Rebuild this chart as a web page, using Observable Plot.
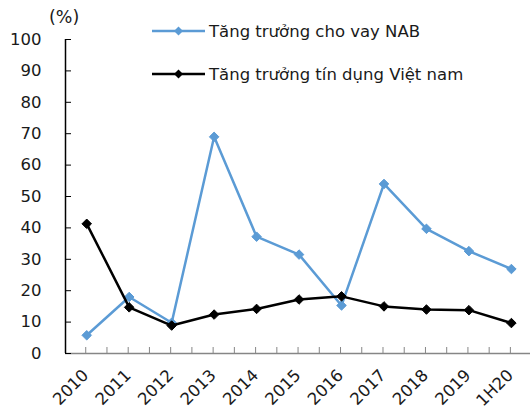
<!DOCTYPE html>
<html>
<head>
<meta charset="utf-8">
<script src="https://cdn.jsdelivr.net/npm/d3@7"></script>
<script src="https://cdn.jsdelivr.net/npm/@observablehq/plot@0.6"></script>
<style>
  html, body { margin: 0; padding: 0; background: #fff; }
  #wrap { position: relative; width: 530px; height: 409px; font-family: "DejaVu Sans", Verdana, sans-serif; color: #1a1a1a; }
  .lab { position: absolute; font-size: 17.5px; white-space: nowrap; line-height: 1; }
  .leg { position: absolute; display: flex; align-items: center; font-size: 16.5px; white-space: nowrap; }
</style>
</head>
<body>
<div id="wrap"></div>
<script>
const categories = ["2010","2011","2012","2013","2014","2015","2016","2017","2018","2019","1H20"];
const nabGrowth = [5.8, 18, 9.8, 69, 37.2, 31.5, 15.3, 54, 39.7, 32.6, 26.9];
const vnGrowth = [41.3, 14.7, 8.9, 12.4, 14.2, 17.2, 18.2, 15, 14, 13.8, 9.7];
const yTicks = [0,10,20,30,40,50,60,70,80,90,100];
const seriesNames = ["Tăng trưởng cho vay NAB", "Tăng trưởng tín dụng Việt nam"];
const seriesColors = ["#5b9bd5", "#000000"];

const nabData = categories.map((c, i) => ({i, c, v: nabGrowth[i]}));
const vnData = categories.map((c, i) => ({i, c, v: vnGrowth[i]}));
const xTicks = d3.range(0, categories.length * 2 - 1).map(k => k / 2);

const chart = Plot.plot({
  width: 530,
  height: 409,
  marginLeft: 65,
  marginRight: 0,
  marginTop: 39,
  marginBottom: 56,
  style: {fontFamily: "DejaVu Sans, Verdana, sans-serif", fontSize: "16px", color: "#1a1a1a", background: "transparent"},
  x: {domain: [-0.5, categories.length - 0.55]},
  y: {domain: [0, 100]},
  marks: [
    Plot.ruleY([0], {stroke: "#868686", strokeWidth: 1.5}),
    Plot.ruleX([-0.5], {y1: 0, y2: 100, stroke: "#000", strokeWidth: 1.5}),
    Plot.axisY({ticks: yTicks, tickSize: -6, tickPadding: 30, stroke: "#000", label: null, fontSize: 16.5}),
    Plot.axisX({ticks: xTicks, tickSize: -6, tickPadding: 25, stroke: "#868686", label: null,
      tickFormat: d => Number.isInteger(d) ? categories[d] : "", tickRotate: -45, fontSize: 16.5, fill: "#1a1a1a", dx: -1}),
    Plot.line(nabData, {x: "i", y: "v", stroke: seriesColors[0], strokeWidth: 2.5}),
    Plot.dot(nabData, {x: "i", y: "v", symbol: "diamond2", r: 4.3, fill: seriesColors[0], stroke: seriesColors[0], strokeWidth: 1}),
    Plot.line(vnData, {x: "i", y: "v", stroke: seriesColors[1], strokeWidth: 2.5}),
    Plot.dot(vnData, {x: "i", y: "v", symbol: "diamond2", r: 4.3, fill: seriesColors[1], stroke: seriesColors[1], strokeWidth: 1})
  ]
});
const wrap = document.getElementById("wrap");
chart.style.position = "absolute";
chart.style.left = "0";
chart.style.top = "0";
wrap.appendChild(chart);

const unit = document.createElement("div");
unit.className = "lab";
unit.textContent = "(%)";
unit.style.left = "49px";
unit.style.top = "9px";
wrap.appendChild(unit);

const legTops = [22, 65];
seriesNames.forEach((name, k) => {
  const row = document.createElement("div");
  row.className = "leg";
  row.style.left = "152px";
  row.style.top = legTops[k] + "px";
  row.style.height = "18px";
  const col = seriesColors[k];
  row.innerHTML = `<svg width="53" height="18" style="margin-right:4px"><line x1="0" y1="9" x2="53" y2="9" stroke="${col}" stroke-width="2.5"/><path d="M26.5,4.5L31,9L26.5,13.5L22,9Z" fill="${col}"/></svg><span>${name}</span>`;
  wrap.appendChild(row);
});
</script>
</body>
</html>
